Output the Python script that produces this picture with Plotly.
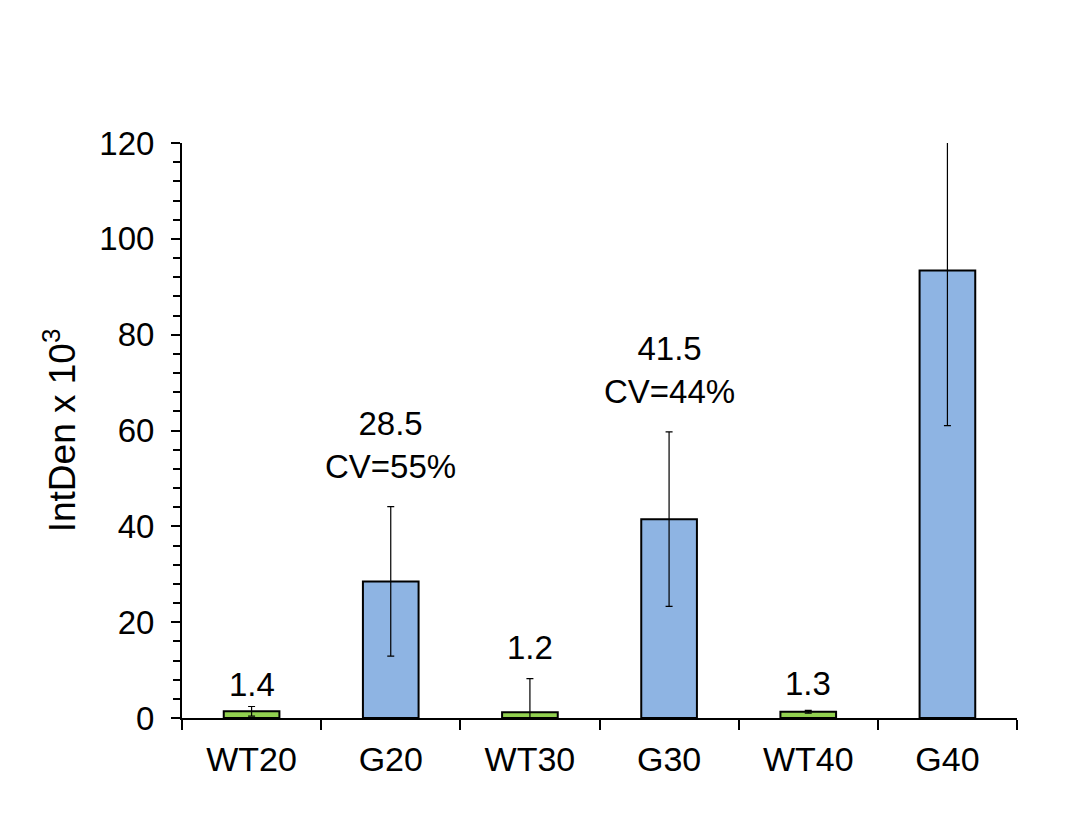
import plotly.graph_objects as go

categories = ["WT20", "G20", "WT30", "G30", "WT40", "G40"]
means = [1.4, 28.5, 1.2, 41.5, 1.3, 93.4]
errors = [1.0, 15.6, 7.0, 18.2, 0.3, 32.4]
cv_percent = [None, 55, None, 44, None, 24]
label_y = [4.5, 50.1, 12.4, 65.8, 4.7, 123.5]
bar_colors = ["#92D050", "#8EB4E3", "#92D050", "#8EB4E3", "#92D050", "#8EB4E3"]

FONT = "Liberation Sans, Arial, sans-serif"

fig = go.Figure()
fig.add_trace(go.Bar(
    x=categories, y=means, width=0.4,
    marker=dict(color=bar_colors, line=dict(color="black", width=2)),
    error_y=dict(type="data", array=errors, visible=True,
                 color="black", thickness=1.2, width=3.5),
    showlegend=False, hoverinfo="skip",
))

for cat, m, cv, ly in zip(categories, means, cv_percent, label_y):
    txt = f"{m:.1f}" if cv is None else f"{m:.1f}<br>CV={cv}%"
    fig.add_annotation(x=cat, y=ly, xref="x", yref="y", text=txt,
                       showarrow=False, yanchor="bottom", yshift=-9,
                       font=dict(family=FONT, size=33, color="black"))

fig.update_layout(
    width=1091, height=821,
    margin=dict(l=174, r=82, t=135, b=111),
    paper_bgcolor="white", plot_bgcolor="white",
    font=dict(family=FONT, color="black"),
    bargap=0.6,
)
fig.update_xaxes(
    showline=True, linecolor="black", linewidth=2,
    ticks="outside", tickson="boundaries", ticklen=10, tickwidth=2, tickcolor="black",
    tickfont=dict(family=FONT, size=34, color="black"),
    ticklabelstandoff=10, showgrid=False, zeroline=False,
)
fig.update_yaxes(
    range=[0, 120], tick0=0, dtick=20,
    showline=True, linecolor="black", linewidth=2,
    ticks="outside", ticklen=9, tickwidth=2, tickcolor="black",
    minor=dict(dtick=4, ticks="outside", ticklen=7, tickwidth=2, tickcolor="black"),
    tickfont=dict(family=FONT, size=33, color="black"),
    ticklabelstandoff=10, showgrid=False, zeroline=False,
    title=dict(text="IntDen x 10<sup>3</sup>", font=dict(family=FONT, size=37, color="black"), standoff=12),
)

fig.write_html("out.html")
